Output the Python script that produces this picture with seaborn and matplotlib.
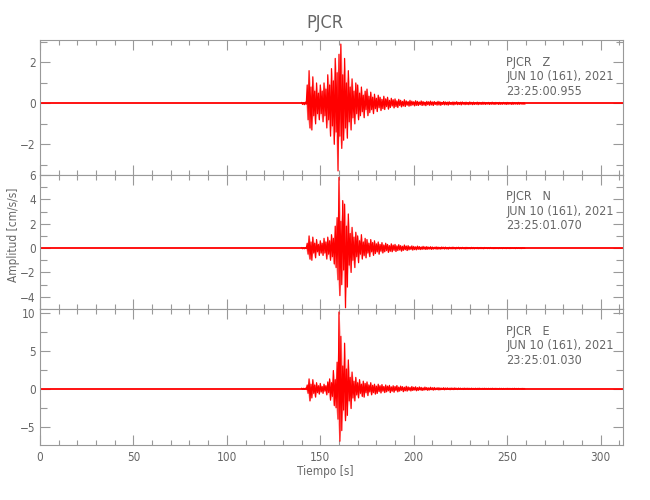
import numpy as np
import matplotlib
matplotlib.use("Agg")
import matplotlib.pyplot as plt
import seaborn as sns
from matplotlib.ticker import MultipleLocator

# sample times (s) of the per-second peaks read from the record
t_sec = list(range(140, 260))

# component Z : positive / negative peak of each second
z_hi = [0.05, 0.04, 0.06, 0.9, 1.6, 0.8, 1.3, 0.6, 1.0, 0.5,
        0.9, 0.6, 1.0, 0.7, 1.4, 0.9, 1.7, 1.1, 2.2, 1.5,
        2.4, 2.9, 1.4, 2.2, 1.0, 1.6, 0.8, 1.2, 0.6, 1.0,
        0.9, 0.5, 0.8, 0.4, 0.6, 0.7, 0.35, 0.55, 0.3, 0.45,
        0.25, 0.4, 0.3, 0.2, 0.35, 0.22, 0.3, 0.15, 0.25, 0.18,
        0.22, 0.12, 0.2, 0.15, 0.1, 0.18, 0.12, 0.09, 0.15, 0.11,
        0.08, 0.13, 0.1, 0.07, 0.12, 0.09, 0.06, 0.1, 0.08, 0.11,
        0.07, 0.09, 0.06, 0.1, 0.08, 0.05, 0.09, 0.07, 0.06, 0.08,
        0.05, 0.07, 0.06, 0.08, 0.05, 0.06, 0.07, 0.05, 0.06, 0.04,
        0.07, 0.05, 0.06, 0.04, 0.06, 0.05, 0.04, 0.06, 0.05, 0.04,
        0.05, 0.04, 0.06, 0.04, 0.05, 0.04, 0.05, 0.03, 0.05, 0.04,
        0.05, 0.04, 0.03, 0.05, 0.04, 0.03, 0.05, 0.04, 0.03, 0.04]
z_lo = [-0.05, -0.06, -0.04, -0.8, -1.2, -1.3, -0.6, -1.0, -0.5, -0.8,
        -0.5, -0.9, -0.6, -1.2, -0.8, -1.6, -1.1, -2.0, -1.4, -3.3,
        -1.6, -2.2, -1.8, -1.2, -1.7, -0.9, -1.3, -0.7, -1.0, -0.5,
        -0.8, -0.6, -0.4, -0.7, -0.3, -0.6, -0.45, -0.3, -0.5, -0.25,
        -0.4, -0.2, -0.35, -0.25, -0.3, -0.15, -0.28, -0.2, -0.12, -0.22,
        -0.15, -0.2, -0.1, -0.17, -0.12, -0.15, -0.08, -0.13, -0.11, -0.07,
        -0.12, -0.09, -0.1, -0.06, -0.1, -0.08, -0.11, -0.06, -0.09, -0.07,
        -0.1, -0.05, -0.08, -0.07, -0.09, -0.05, -0.07, -0.06, -0.08, -0.05,
        -0.06, -0.07, -0.04, -0.06, -0.05, -0.07, -0.04, -0.06, -0.05, -0.06,
        -0.04, -0.06, -0.05, -0.04, -0.06, -0.04, -0.05, -0.04, -0.05, -0.03,
        -0.05, -0.04, -0.04, -0.05, -0.03, -0.05, -0.04, -0.04, -0.03, -0.05,
        -0.04, -0.03, -0.05, -0.04, -0.03, -0.04, -0.04, -0.03, -0.04, -0.04]

# component N
n_hi = [0.05, 0.04, 0.05, 0.4, 1.0, 0.5, 0.9, 0.4, 0.7, 0.3,
        0.6, 0.4, 0.8, 0.5, 0.9, 0.6, 1.1, 0.8, 1.8, 2.5,
        5.8, 2.2, 3.9, 3.6, 1.8, 2.8, 1.2, 1.7, 0.9, 1.3,
        1.0, 0.6, 1.1, 0.5, 0.8, 0.7, 0.4, 0.7, 0.45, 0.6,
        0.35, 0.5, 0.3, 0.45, 0.25, 0.4, 0.3, 0.2, 0.35, 0.25,
        0.3, 0.18, 0.28, 0.2, 0.15, 0.25, 0.17, 0.2, 0.12, 0.18,
        0.14, 0.1, 0.16, 0.12, 0.09, 0.14, 0.1, 0.12, 0.08, 0.11,
        0.09, 0.07, 0.1, 0.08, 0.06, 0.09, 0.07, 0.08, 0.05, 0.07,
        0.06, 0.08, 0.05, 0.06, 0.07, 0.05, 0.06, 0.04, 0.06, 0.05,
        0.04, 0.06, 0.05, 0.04, 0.05, 0.04, 0.05, 0.03, 0.05, 0.04,
        0.04, 0.05, 0.03, 0.04, 0.04, 0.03, 0.04, 0.03, 0.04, 0.03,
        0.04, 0.03, 0.04, 0.03, 0.03, 0.04, 0.03, 0.03, 0.04, 0.03]
n_lo = [-0.05, -0.05, -0.04, -0.5, -0.9, -1.0, -0.4, -0.8, -0.3, -0.6,
        -0.4, -0.6, -0.4, -0.9, -0.5, -1.0, -0.7, -1.3, -1.6, -2.6,
        -3.9, -3.0, -1.8, -4.9, -3.2, -1.4, -2.0, -1.0, -1.6, -0.7,
        -1.2, -0.5, -0.9, -0.6, -0.8, -0.4, -0.7, -0.3, -0.6, -0.45,
        -0.3, -0.5, -0.25, -0.4, -0.3, -0.2, -0.35, -0.25, -0.3, -0.18,
        -0.28, -0.2, -0.15, -0.25, -0.18, -0.12, -0.2, -0.14, -0.1, -0.16,
        -0.12, -0.14, -0.09, -0.12, -0.1, -0.08, -0.11, -0.09, -0.07, -0.1,
        -0.08, -0.06, -0.09, -0.07, -0.08, -0.05, -0.07, -0.06, -0.08, -0.05,
        -0.06, -0.05, -0.07, -0.04, -0.06, -0.05, -0.04, -0.06, -0.05, -0.04,
        -0.05, -0.04, -0.05, -0.03, -0.05, -0.04, -0.04, -0.05, -0.03, -0.04,
        -0.04, -0.03, -0.04, -0.04, -0.03, -0.04, -0.03, -0.04, -0.03, -0.04,
        -0.03, -0.04, -0.03, -0.03, -0.04, -0.03, -0.03, -0.04, -0.03, -0.03]

# component E
e_hi = [0.08, 0.06, 0.08, 0.5, 1.3, 0.6, 1.2, 0.5, 0.8, 0.4,
        0.7, 0.3, 0.6, 0.4, 0.9, 1.3, 0.8, 2.4, 1.2, 3.5,
        10.1, 6.9, 3.0, 6.0, 2.6, 3.8, 1.5, 2.2, 1.0, 1.5,
        0.8, 1.2, 0.6, 1.0, 0.7, 0.9, 0.5, 0.8, 0.45, 0.6,
        0.35, 0.6, 0.4, 0.55, 0.3, 0.5, 0.35, 0.45, 0.25, 0.4,
        0.3, 0.42, 0.22, 0.35, 0.28, 0.2, 0.33, 0.25, 0.18, 0.3,
        0.2, 0.26, 0.15, 0.24, 0.18, 0.13, 0.22, 0.16, 0.12, 0.2,
        0.14, 0.17, 0.11, 0.15, 0.12, 0.09, 0.14, 0.1, 0.12, 0.08,
        0.11, 0.09, 0.12, 0.07, 0.1, 0.08, 0.06, 0.09, 0.07, 0.08,
        0.06, 0.08, 0.05, 0.07, 0.06, 0.08, 0.05, 0.06, 0.07, 0.05,
        0.06, 0.05, 0.07, 0.05, 0.06, 0.04, 0.06, 0.05, 0.05, 0.04,
        0.06, 0.05, 0.04, 0.05, 0.06, 0.04, 0.05, 0.04, 0.05, 0.04]
e_lo = [-0.08, -0.08, -0.06, -0.6, -1.6, -1.2, -0.6, -1.1, -0.5, -0.7,
        -0.4, -0.6, -0.3, -0.8, -0.5, -1.5, -1.0, -2.2, -2.5, -4.0,
        -6.9, -5.5, -2.8, -4.2, -3.5, -1.6, -2.6, -1.2, -1.6, -0.8,
        -1.2, -0.6, -1.0, -1.1, -0.5, -0.9, -0.4, -0.8, -0.5, -0.7,
        -0.6, -0.35, -0.55, -0.3, -0.5, -0.4, -0.25, -0.5, -0.3, -0.45,
        -0.22, -0.4, -0.3, -0.2, -0.38, -0.25, -0.3, -0.18, -0.28, -0.22,
        -0.15, -0.26, -0.2, -0.14, -0.22, -0.17, -0.12, -0.2, -0.15, -0.11,
        -0.17, -0.13, -0.1, -0.15, -0.12, -0.09, -0.13, -0.1, -0.08, -0.12,
        -0.09, -0.11, -0.07, -0.1, -0.08, -0.06, -0.09, -0.08, -0.06, -0.08,
        -0.07, -0.05, -0.08, -0.06, -0.07, -0.05, -0.06, -0.07, -0.05, -0.06,
        -0.05, -0.06, -0.04, -0.06, -0.05, -0.05, -0.04, -0.06, -0.05, -0.04,
        -0.05, -0.04, -0.05, -0.05, -0.04, -0.05, -0.04, -0.04, -0.05, -0.04]

# quiet trace baseline over the whole record
base_t = [0, 312]
base_v = [0, 0]

components = ["Z", "N", "E"]
start_times = ["23:25:00.955", "23:25:01.070", "23:25:01.030"]
ylims = [(-3.5, 3.1), (-5.0, 6.0), (-7.4, 10.5)]
major_steps = [2, 2, 5]
minor_steps = [1, 1, 2.5]
traces = [(z_hi, z_lo), (n_hi, n_lo), (e_hi, e_lo)]

sns.set_style("ticks")
plt.rcParams["font.family"] = ["DejaVu Sans"]
plt.rcParams["font.stretch"] = "condensed"
grey = "#666666"
axis_grey = "#999999"

fig = plt.figure(figsize=(6.5, 5), dpi=100)
left, width = 40 / 650, 583 / 650
edges = [40, 175, 309, 445]

for i in range(3):
    top, bot = edges[i], edges[i + 1]
    ax = fig.add_axes([left, 1 - bot / 500, width, (bot - top) / 500])
    hi, lo = traces[i]
    # light envelope behind the trace, like the pink fringe of the record
    ax.fill_between(t_sec, lo, hi, color="#ff0000", alpha=0.25, lw=0)
    # interleave the up and down peaks into one zigzag trace
    tt = np.ravel(np.column_stack([t_sec, np.array(t_sec) + 0.5]))
    vv = np.ravel(np.column_stack([hi, lo]))
    sns.lineplot(x=base_t, y=base_v, color="#ff0000", lw=1.3, ax=ax,
                 estimator=None, sort=False)
    sns.lineplot(x=tt, y=vv, color="#ff0000", lw=0.9, ax=ax,
                 estimator=None, sort=False)
    ax.set_xlim(0, 312)
    ax.set_ylim(*ylims[i])
    ax.xaxis.set_major_locator(MultipleLocator(50))
    ax.xaxis.set_minor_locator(MultipleLocator(10))
    ax.yaxis.set_major_locator(MultipleLocator(major_steps[i]))
    ax.yaxis.set_minor_locator(MultipleLocator(minor_steps[i]))
    ax.tick_params(which="both", direction="in", top=True, right=True,
                   color=axis_grey, labelcolor=grey, labelsize=8.5, width=0.8)
    ax.tick_params(axis="x", which="major", length=7, pad=4)
    ax.tick_params(axis="x", which="minor", length=3.5)
    ax.tick_params(axis="y", which="major", length=7, pad=3)
    ax.tick_params(axis="y", which="minor", length=5)
    for s in ax.spines.values():
        s.set_color(axis_grey)
        s.set_linewidth(0.8)
    ax.set_xlabel("")
    ax.set_ylabel("")
    if i < 2:
        ax.tick_params(axis="x", labelbottom=False)
    ax.text(0.80, 0.885,
            f"PJCR   {components[i]}\nJUN 10 (161), 2021\n{start_times[i]}",
            transform=ax.transAxes, va="top", ha="left", fontsize=9,
            color=grey, linespacing=1.15)

fig.text(0.5, 0.955, "PJCR", ha="center", va="center", fontsize=13, color=grey)
fig.text(0.021, 0.53, "Amplitud [cm/s/s]", ha="center", va="center",
         rotation=90, fontsize=8.5, color=grey)
fig.text(0.5, 0.058, "Tiempo [s]", ha="center", va="center", fontsize=8.5, color=grey)

fig.savefig("out.png", dpi=100)
